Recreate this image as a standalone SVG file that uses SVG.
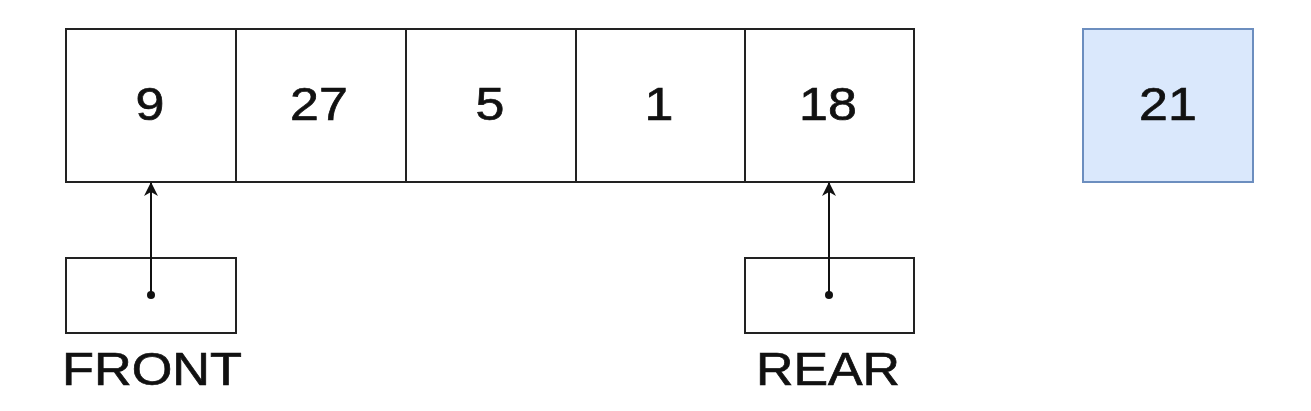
<svg xmlns="http://www.w3.org/2000/svg" width="1311" height="411" viewBox="0 0 1311 411">
<style>
.cell{fill:#ffffff;stroke:#222;stroke-width:2}
.ptr{fill:#ffffff;stroke:#222;stroke-width:2}
.new{fill:#dae8fc;stroke:#6c8ebf;stroke-width:2}
.num{font-family:"Liberation Sans",Arial,sans-serif;font-size:46px;fill:#111;stroke:#111;stroke-width:0.7;text-anchor:middle}
.lbl{font-family:"Liberation Sans",Arial,sans-serif;font-size:46px;fill:#111;stroke:#111;stroke-width:0.7}
.conn{stroke:#111;stroke-width:2;fill:none}
</style>
<defs>
<marker id="arr" viewBox="0 0 14 14" markerWidth="14" markerHeight="14" refX="13" refY="7" orient="auto" markerUnits="userSpaceOnUse">
<path d="M0,0 L14,7 L0,14 L4,7 Z" fill="#111"/>
</marker>
</defs>
<g id="cell0"><rect class="cell" x="66" y="29" width="170" height="153"/><text class="num" transform="translate(150,120) scale(1.13,1)">9</text></g>
<g id="cell1"><rect class="cell" x="236" y="29" width="170" height="153"/><text class="num" transform="translate(319,120) scale(1.13,1)">27</text></g>
<g id="cell2"><rect class="cell" x="406" y="29" width="170" height="153"/><text class="num" transform="translate(490,120) scale(1.13,1)">5</text></g>
<g id="cell3"><rect class="cell" x="576" y="29" width="169" height="153"/><text class="num" transform="translate(659,120) scale(1.13,1)">1</text></g>
<g id="cell4"><rect class="cell" x="745" y="29" width="169" height="153"/><text class="num" transform="translate(828,120) scale(1.13,1)">18</text></g>
<g id="newnode"><rect class="new" x="1083" y="29" width="170" height="153"/><text class="num" transform="translate(1168,120) scale(1.13,1)">21</text></g>
<g id="front"><rect class="ptr" x="66" y="258" width="170" height="75"/><text class="lbl" x="62" y="385" textLength="180" lengthAdjust="spacingAndGlyphs">FRONT</text></g>
<g id="rear"><rect class="ptr" x="745" y="258" width="169" height="75"/><text class="lbl" x="756" y="385" textLength="144" lengthAdjust="spacingAndGlyphs">REAR</text></g>
<g id="connectors">
<line class="conn" x1="151" y1="295" x2="151" y2="183" marker-end="url(#arr)"/>
<circle cx="151" cy="295" r="4" fill="#111"/>
<line class="conn" x1="829" y1="295" x2="829" y2="183" marker-end="url(#arr)"/>
<circle cx="829" cy="295" r="4" fill="#111"/>
</g>
</svg>
